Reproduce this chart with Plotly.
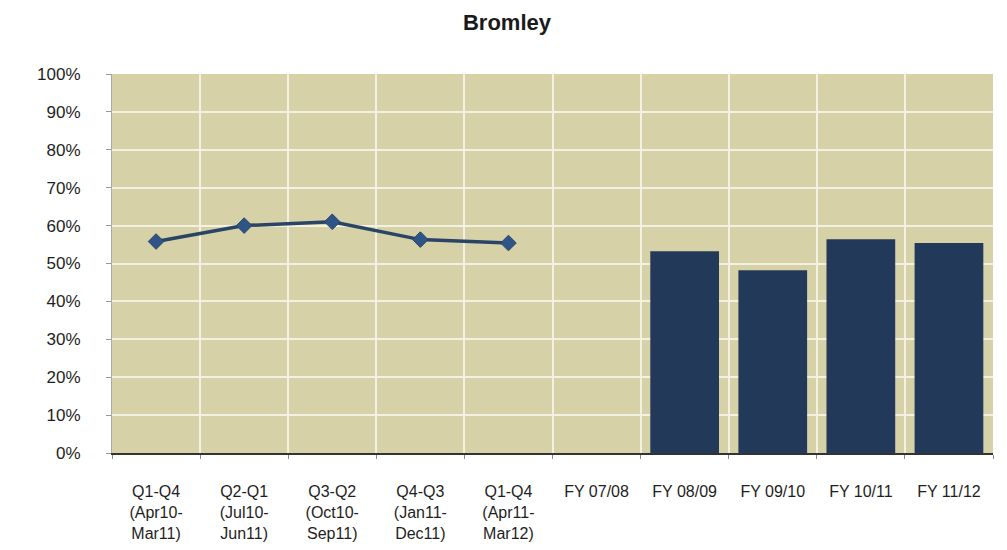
import plotly.graph_objects as go

categories = [
    "Q1-Q4<br>(Apr10-<br>Mar11)",
    "Q2-Q1<br>(Jul10-<br>Jun11)",
    "Q3-Q2<br>(Oct10-<br>Sep11)",
    "Q4-Q3<br>(Jan11-<br>Dec11)",
    "Q1-Q4<br>(Apr11-<br>Mar12)",
    "FY 07/08",
    "FY 08/09",
    "FY 09/10",
    "FY 10/11",
    "FY 11/12",
]
rolling_cats = categories[:5]
rolling_vals = [0.558, 0.60, 0.61, 0.563, 0.554]
fy_cats = categories[5:]
fy_vals = [None, 0.532, 0.482, 0.564, 0.554]
y_ticks = [i / 10 for i in range(11)]
y_labels = [f"{i * 10}%" for i in range(11)]

fig = go.Figure()
fig.add_trace(go.Bar(
    x=fy_cats, y=fy_vals,
    marker=dict(color="#22395a", line=dict(width=0)),
    width=0.78, showlegend=False,
))
fig.add_trace(go.Scatter(
    x=rolling_cats, y=rolling_vals, mode="lines+markers",
    line=dict(color="#2a4466", width=3.5),
    marker=dict(symbol="diamond", size=12, color="#2f5588",
                line=dict(color="#2a4466", width=1)),
    showlegend=False,
))

fig.update_layout(
    width=999, height=542,
    margin=dict(l=104, r=14, t=66, b=97, autoexpand=False),
    paper_bgcolor="white",
    plot_bgcolor="#d6d1a7",
    font=dict(family="Liberation Sans, Arial, sans-serif", color="#1e1e1e", size=15),
    title=dict(text="<b>Bromley</b>", x=(507 - 8) / 999, xanchor="center",
               y=1 - 14 / 542, yanchor="middle",
               font=dict(size=22, color="#1a1a1a")),
)
fig.update_xaxes(
    type="category", categoryorder="array", categoryarray=categories,
    tickson="boundaries", ticks="outside", ticklen=4, tickcolor="#888",
    showgrid=True, gridcolor="#f3f1e2", gridwidth=2,
    showline=True, linecolor="#333", linewidth=1.5,
    tickfont=dict(size=16, color="#1e1e1e"),
    ticklabelstandoff=23,
    range=[-0.5, 9.5],
)
fig.update_yaxes(
    range=[0, 1.0], tickvals=y_ticks, ticktext=y_labels,
    ticks="outside", ticklen=5, tickcolor="#999",
    showgrid=True, gridcolor="#f3f1e2", gridwidth=2,
    showline=True, linecolor="#aaa", linewidth=1,
    zeroline=False,
    tickfont=dict(size=17, color="#1e1e1e"),
    ticklabelstandoff=22,
)

fig.write_html("out.html")
